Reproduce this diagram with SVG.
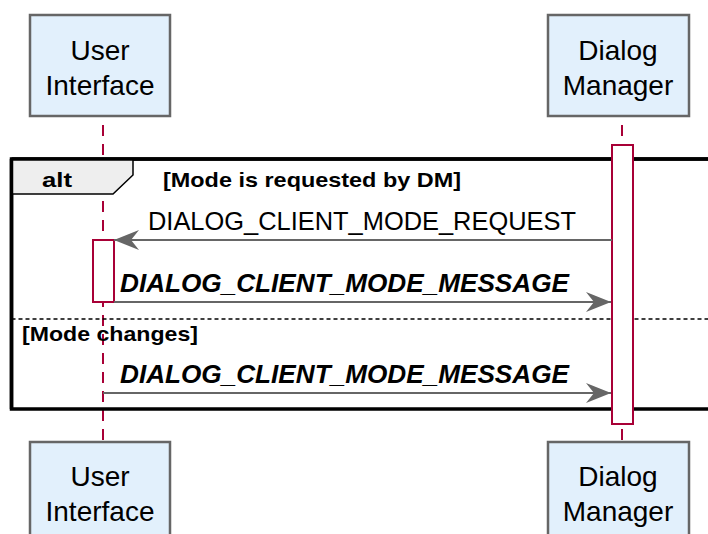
<svg xmlns="http://www.w3.org/2000/svg" width="708" height="534" viewBox="0 0 708 534">
<defs>
<style>
.part{fill:#E2F0FC;stroke:#666666;stroke-width:2.5}
.ptxt{font-family:"Liberation Sans",Arial,sans-serif;font-size:28px;fill:#000;text-anchor:middle}
.life{stroke:#A80036;stroke-width:2;stroke-dasharray:11,8;fill:none}
.act{fill:#FFFFFF;stroke:#A80036;stroke-width:2}
.msg{stroke:#666666;stroke-width:2;fill:none}
.mtxt{font-family:"Liberation Sans",Arial,sans-serif;font-size:26px;fill:#000}
.mtxtb{font-family:"Liberation Sans",Arial,sans-serif;font-size:26px;font-weight:bold;font-style:italic;fill:#000}
.gtxt{font-family:"Liberation Sans",Arial,sans-serif;font-size:21px;font-weight:bold;fill:#000}
</style>
<marker id="arr" viewBox="0 0 25 20" refX="25" refY="10" markerWidth="25" markerHeight="20" markerUnits="userSpaceOnUse" orient="auto">
<path d="M0,0 L25,10 L0,20 L8,10 Z" fill="#666666"/>
</marker>
</defs>
<g id="lifelines">
<line class="life" x1="103" y1="125" x2="103" y2="442"/>
<line class="life" x1="622" y1="125" x2="622" y2="442"/>
</g>
<g id="alt-frame">
<rect x="11.5" y="159" width="720" height="250" fill="none" stroke="#000" stroke-width="3.5"/>
<path d="M11.5,159 L133,159 L133,175 L113,194 L11.5,194 Z" fill="#EEEEEE" stroke="#000" stroke-width="1.5"/>
<line x1="11.5" y1="159" x2="720" y2="159" stroke="#000" stroke-width="3.5"/>
<line x1="11.5" y1="159" x2="11.5" y2="409" stroke="#000" stroke-width="3.5"/>
<text x="42" y="187" class="gtxt" textLength="30" lengthAdjust="spacingAndGlyphs">alt</text>
<text x="163" y="187" class="gtxt" textLength="298" lengthAdjust="spacingAndGlyphs">[Mode is requested by DM]</text>
<line x1="11.5" y1="319" x2="708" y2="319" stroke="#000" stroke-width="1.5" stroke-dasharray="4,3"/>
<text x="22" y="341" class="gtxt" textLength="176" lengthAdjust="spacingAndGlyphs">[Mode changes]</text>
</g>
<g id="activations">
<rect class="act" x="93" y="240" width="21" height="62"/>
<rect class="act" x="612" y="145" width="21" height="279"/>
</g>
<g id="connectors">
<line class="msg" x1="612" y1="240" x2="114" y2="240" marker-end="url(#arr)"/>
<text x="148" y="230" class="mtxt" textLength="428" lengthAdjust="spacingAndGlyphs">DIALOG_CLIENT_MODE_REQUEST</text>
<line class="msg" x1="114" y1="302" x2="611" y2="302" marker-end="url(#arr)"/>
<text x="120" y="292" class="mtxtb" textLength="449" lengthAdjust="spacingAndGlyphs">DIALOG_CLIENT_MODE_MESSAGE</text>
<line class="msg" x1="103" y1="393" x2="611" y2="393" marker-end="url(#arr)"/>
<text x="120" y="383" class="mtxtb" textLength="449" lengthAdjust="spacingAndGlyphs">DIALOG_CLIENT_MODE_MESSAGE</text>
</g>
<g id="ui-top">
<rect class="part" x="30" y="15" width="140" height="101"/>
<text x="100" y="60" class="ptxt">User</text>
<text x="100" y="95" class="ptxt">Interface</text>
</g>
<g id="dm-top">
<rect class="part" x="548" y="15" width="141" height="101"/>
<text x="618" y="60" class="ptxt">Dialog</text>
<text x="618" y="95" class="ptxt">Manager</text>
</g>
<g id="ui-bottom">
<rect class="part" x="30" y="442" width="140" height="101"/>
<text x="100" y="486" class="ptxt">User</text>
<text x="100" y="521" class="ptxt">Interface</text>
</g>
<g id="dm-bottom">
<rect class="part" x="548" y="442" width="141" height="101"/>
<text x="618" y="486" class="ptxt">Dialog</text>
<text x="618" y="521" class="ptxt">Manager</text>
</g>
</svg>
